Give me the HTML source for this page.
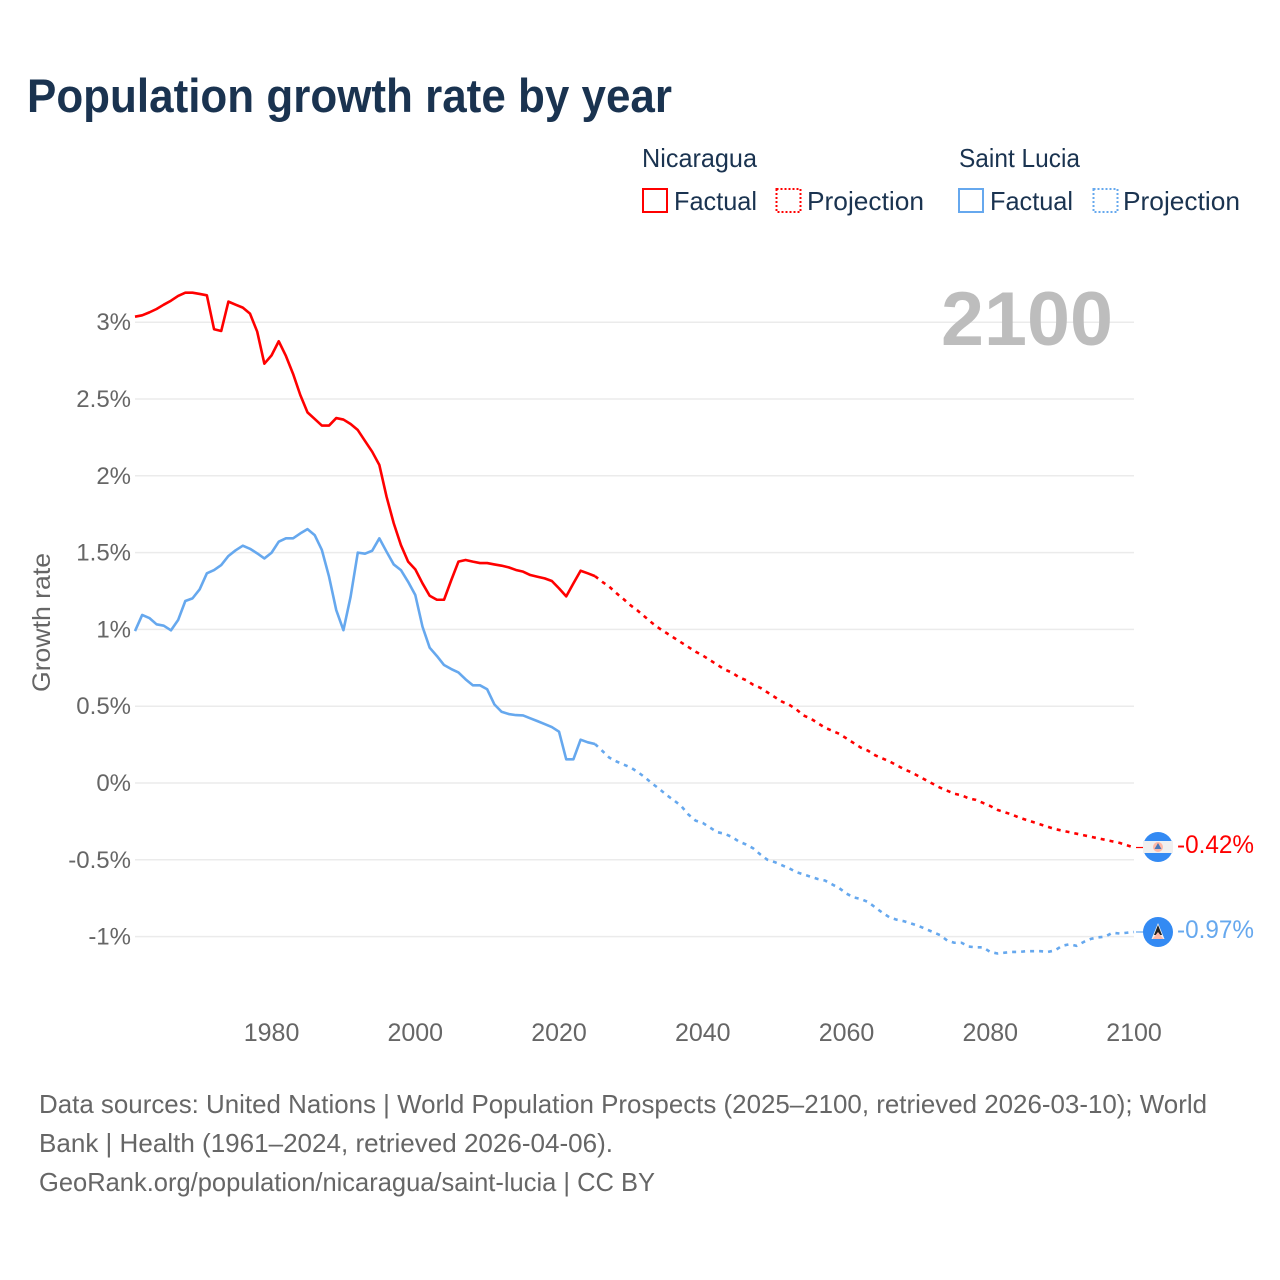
<!DOCTYPE html>
<html lang="en">
<head>
<meta charset="utf-8">
<title>Population growth rate by year</title>
<style>
html,body{margin:0;padding:0;background:#fff;width:1280px;height:1280px;overflow:hidden}
svg{display:block;font-family:"Liberation Sans",sans-serif}
</style>
</head>
<body>
<svg id="chart" xmlns="http://www.w3.org/2000/svg" width="1280" height="1280" viewBox="0 0 1280 1280">
  <rect width="1280" height="1280" fill="#fff"/>
  <text x="27" y="112" font-size="47" font-weight="700" fill="#1a3350" textLength="645" lengthAdjust="spacingAndGlyphs">Population growth rate by year</text>

  <g font-size="26" fill="#1a3350">
    <text x="642" y="167" textLength="115" lengthAdjust="spacingAndGlyphs">Nicaragua</text>
    <text x="959" y="167" textLength="121" lengthAdjust="spacingAndGlyphs">Saint Lucia</text>
    <rect x="643" y="189" width="24" height="23" fill="none" stroke="#ff0000" stroke-width="2"/>
    <text x="674" y="210" textLength="83" lengthAdjust="spacingAndGlyphs">Factual</text>
    <rect x="776.5" y="189" width="24" height="23" fill="none" stroke="#ff0000" stroke-width="2" stroke-dasharray="2 2"/>
    <text x="807" y="210" textLength="117" lengthAdjust="spacingAndGlyphs">Projection</text>
    <rect x="959" y="189" width="24" height="23" fill="none" stroke="#66a8ee" stroke-width="2"/>
    <text x="990" y="210" textLength="83" lengthAdjust="spacingAndGlyphs">Factual</text>
    <rect x="1093.5" y="189" width="24" height="23" fill="none" stroke="#66a8ee" stroke-width="2" stroke-dasharray="2 2"/>
    <text x="1123" y="210" textLength="117" lengthAdjust="spacingAndGlyphs">Projection</text>
  </g>

  <g id="grid"></g>
  <g id="yticks" font-size="24" fill="#666" text-anchor="end"></g>
  <g id="xticks" font-size="25" fill="#666" text-anchor="middle"></g>

  <text transform="translate(50 622.5) rotate(-90)" font-size="25" fill="#666" text-anchor="middle" textLength="139" lengthAdjust="spacingAndGlyphs">Growth rate</text>
  <text x="941" y="345" font-size="76" font-weight="700" fill="#bdbdbd" textLength="172" lengthAdjust="spacingAndGlyphs">2100</text>

  <g id="series"></g>

  <g>
    <circle cx="1158" cy="847" r="15" fill="#338af3"/>
    <rect x="1143" y="841" width="30" height="12" fill="#f0f0f0"/>
    <circle cx="1158" cy="847" r="5" fill="#ffb9a8"/>
    <path d="M1158 843l3.5 6h-7z" fill="#4a78b8"/>
  </g>
  <g>
    <circle cx="1158" cy="932" r="15" fill="#338af3"/>
    <path d="M1158 923l6.5 16h-13z" fill="#f0f0f0"/>
    <path d="M1158 925l4 10h-8z" fill="#222"/>
    <path d="M1158 932l5.5 7h-11z" fill="#ffb9a8"/>
  </g>
  <text x="1177" y="853" font-size="25" fill="#ff0000" textLength="77" lengthAdjust="spacingAndGlyphs">-0.42%</text>
  <text x="1177" y="938" font-size="25" fill="#66a8ee" textLength="77" lengthAdjust="spacingAndGlyphs">-0.97%</text>

  <g font-size="26" fill="#666">
    <text x="39" y="1113" textLength="1168" lengthAdjust="spacingAndGlyphs">Data sources: United Nations | World Population Prospects (2025–2100, retrieved 2026-03-10); World</text>
    <text x="39" y="1152" textLength="574" lengthAdjust="spacingAndGlyphs">Bank | Health (1961–2024, retrieved 2026-04-06).</text>
    <text x="39" y="1191" textLength="616" lengthAdjust="spacingAndGlyphs">GeoRank.org/population/nicaragua/saint-lucia | CC BY</text>
  </g>
</svg>
<script>
const yTickValues = [3, 2.5, 2, 1.5, 1, 0.5, 0, -0.5, -1];
const yTickLabels = ['3%', '2.5%', '2%', '1.5%', '1%', '0.5%', '0%', '-0.5%', '-1%'];
const xTickYears = [1980, 2000, 2020, 2040, 2060, 2080, 2100];
const factualStartYear = 1961;
const projectionStartYear = 2025;
const nicaraguaFactual = [3.036,3.045,3.064,3.086,3.114,3.14,3.171,3.192,3.192,3.184,3.175,2.954,2.943,3.134,3.114,3.095,3.056,2.939,2.73,2.784,2.876,2.78,2.663,2.526,2.413,2.37,2.327,2.327,2.376,2.366,2.337,2.298,2.227,2.157,2.07,1.864,1.691,1.549,1.441,1.391,1.30,1.219,1.193,1.193,1.32,1.441,1.452,1.441,1.432,1.432,1.423,1.415,1.404,1.387,1.376,1.354,1.343,1.332,1.315,1.267,1.215,1.30,1.382,1.365,1.347];
const nicaraguaProjection = [1.347,1.31,1.278,1.235,1.196,1.155,1.12,1.08,1.04,1.005,0.975,0.945,0.915,0.885,0.855,0.83,0.80,0.77,0.74,0.72,0.69,0.67,0.64,0.62,0.59,0.56,0.53,0.51,0.48,0.44,0.42,0.39,0.36,0.34,0.32,0.29,0.26,0.23,0.21,0.18,0.16,0.14,0.115,0.09,0.07,0.045,0.02,-0.005,-0.03,-0.05,-0.07,-0.08,-0.10,-0.11,-0.13,-0.15,-0.175,-0.19,-0.205,-0.225,-0.24,-0.255,-0.27,-0.285,-0.30,-0.31,-0.32,-0.33,-0.34,-0.35,-0.36,-0.37,-0.38,-0.39,-0.405,-0.42];
const saintLuciaFactual = [0.989,1.094,1.074,1.033,1.024,0.994,1.061,1.185,1.202,1.261,1.365,1.386,1.419,1.478,1.515,1.545,1.525,1.495,1.462,1.499,1.571,1.593,1.593,1.625,1.653,1.614,1.517,1.343,1.126,0.995,1.213,1.50,1.493,1.512,1.593,1.506,1.423,1.386,1.31,1.224,1.018,0.881,0.827,0.768,0.742,0.72,0.675,0.636,0.636,0.61,0.512,0.464,0.449,0.442,0.44,0.421,0.403,0.384,0.364,0.334,0.154,0.154,0.282,0.265,0.254];
const saintLuciaProjection = [0.254,0.21,0.165,0.14,0.12,0.10,0.07,0.035,-0.005,-0.04,-0.08,-0.113,-0.15,-0.205,-0.245,-0.26,-0.29,-0.32,-0.33,-0.35,-0.38,-0.40,-0.425,-0.465,-0.50,-0.515,-0.535,-0.555,-0.58,-0.595,-0.61,-0.625,-0.635,-0.66,-0.685,-0.72,-0.745,-0.755,-0.775,-0.81,-0.845,-0.875,-0.89,-0.90,-0.915,-0.93,-0.95,-0.97,-0.99,-1.025,-1.04,-1.04,-1.065,-1.07,-1.07,-1.10,-1.11,-1.105,-1.10,-1.10,-1.095,-1.095,-1.095,-1.10,-1.09,-1.06,-1.05,-1.06,-1.035,-1.015,-1.005,-1.0,-0.975,-0.98,-0.975,-0.97];

const NS = 'http://www.w3.org/2000/svg';
const plotLeft = 135, plotRight = 1134;
function xScale(year) { return plotLeft + (year - 1961) * (plotRight - plotLeft) / 139; }
function yScale(value) { return 783 - value * 153.6; }

const gridGroup = document.getElementById('grid');
const yTickGroup = document.getElementById('yticks');
yTickValues.forEach(function (v, i) {
  const line = document.createElementNS(NS, 'line');
  
  
  line.setAttribute('x1', plotLeft);
  line.setAttribute('x2', plotRight);
  line.setAttribute('y1', yScale(v));
  line.setAttribute('y2', yScale(v));
  line.setAttribute('stroke', '#ebebeb');
  line.setAttribute('stroke-width', '1.5');
  gridGroup.appendChild(line);
  const label = document.createElementNS(NS, 'text');
  
  
  label.setAttribute('x', 131);
  label.setAttribute('y', yScale(v) + 8);
  label.textContent = yTickLabels[i];
  yTickGroup.appendChild(label);
});

const xTickGroup = document.getElementById('xticks');
xTickYears.forEach(function (year) {
  const label = document.createElementNS(NS, 'text');
  
  
  label.setAttribute('x', xScale(year));
  label.setAttribute('y', 1041);
  label.textContent = String(year);
  xTickGroup.appendChild(label);
});

function pathFrom(values, startYear) {
  return values.map(function (v, i) {
    return (i ? 'L' : 'M') + xScale(startYear + i).toFixed(2) + ' ' + yScale(v).toFixed(2);
  }).join('');
}
const seriesGroup = document.getElementById('series');
function drawSeries(values, startYear, color, dashed, name) {
  const path = document.createElementNS(NS, 'path');
  
  
  path.setAttribute('d', pathFrom(values, startYear));
  path.setAttribute('fill', 'none');
  path.setAttribute('stroke', color);
  path.setAttribute('stroke-width', '2.6');
  path.setAttribute('stroke-linejoin', 'round');
  if (dashed) path.setAttribute('stroke-dasharray', '4 5');
  seriesGroup.appendChild(path);
}
function drawStub(values, color, name) {
  const stub = document.createElementNS(NS, 'line');
  const last = values[values.length - 1];
  
  
  stub.setAttribute('x1', xScale(2100) + 2);
  stub.setAttribute('x2', xScale(2100) + 10);
  stub.setAttribute('y1', yScale(last));
  stub.setAttribute('y2', yScale(last));
  stub.setAttribute('stroke', color);
  stub.setAttribute('stroke-width', '1.2');
  seriesGroup.appendChild(stub);
}
drawSeries(saintLuciaFactual, factualStartYear, '#66a8ee', false, 'saint-lucia-factual-line');
drawSeries(saintLuciaProjection, projectionStartYear, '#66a8ee', true, 'saint-lucia-projection-line');
drawSeries(nicaraguaFactual, factualStartYear, '#ff0000', false, 'nicaragua-factual-line');
drawSeries(nicaraguaProjection, projectionStartYear, '#ff0000', true, 'nicaragua-projection-line');
drawStub(nicaraguaProjection, '#ff0000', 'nicaragua-end-connector');
drawStub(saintLuciaProjection, '#66a8ee', 'saint-lucia-end-connector');
</script>
</body>
</html>
